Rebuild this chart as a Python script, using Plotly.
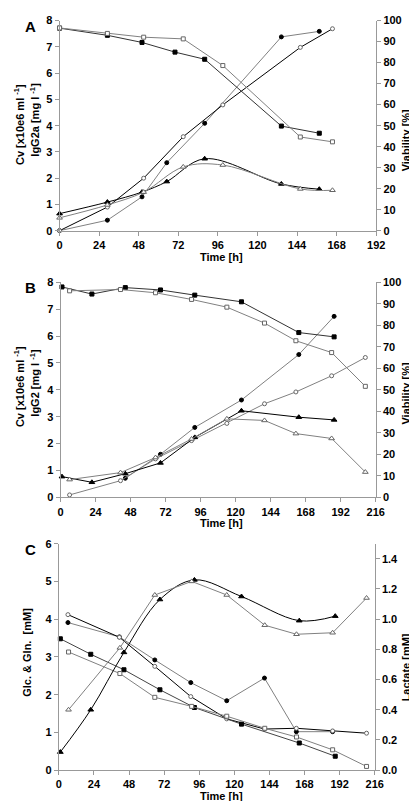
import plotly.graph_objects as go

W, H = 417, 801

# ---------------- Panel A (IgG2a) ----------------
a_t_fsq = [0, 29, 50, 70, 88, 134.5, 157.5]
a_via_fsq = [96.4, 93.0, 89.6, 85.0, 81.6, 49.8, 46.4]
a_t_osq = [0, 29, 51, 75, 99, 146, 165.5]
a_via_osq = [96.5, 93.9, 92.1, 91.3, 78.6, 44.6, 42.3]
a_t_fci = [0, 29, 50, 65, 88, 134.5, 157.5]
a_fci = [0.0, 0.40, 1.29, 2.59, 4.09, 7.38, 7.59]
a_t_oci = [0, 29, 51, 75, 99, 146, 165.5]
a_oci = [0.0, 0.90, 2.0, 3.58, 4.79, 6.98, 7.69]
a_t_ftr = [0, 29, 50, 65, 88, 134.5, 157.5]
a_ftr = [0.65, 1.09, 1.47, 1.87, 2.74, 1.78, 1.58]
a_t_otr = [0, 29, 51, 75, 99, 146, 165.5]
a_otr = [0.49, 0.98, 1.47, 2.43, 2.50, 1.59, 1.54]

# ---------------- Panel B (IgG2) ----------------
b_t_f = [1, 21.5, 44.4, 68.5, 92, 124, 163.3, 187.5]
b_via_fsq = [97.8, 94.5, 97.5, 96.4, 94.0, 90.9, 76.6, 74.6]
b_t_o = [6.2, 41.1, 65.1, 89.8, 114, 139.8, 161.3, 185.8, 208.9]
b_via_osq = [96.0, 96.6, 95.1, 92.0, 88.4, 81.0, 72.8, 67.3, 51.6]
b_t_fci = [44.4, 68.5, 92, 124, 163.3, 187.5]
b_fci = [0.71, 1.60, 2.60, 3.62, 5.31, 6.73]
b_oci = [0.09, 0.62, 1.43, 2.11, 2.75, 3.48, 3.92, 4.52, 5.20]
b_ftr = [0.77, 0.56, 0.88, 1.28, 2.23, 3.22, 2.98, 2.88]
b_otr = [0.66, 0.92, 1.48, 2.17, 2.92, 2.86, 2.37, 2.19, 0.94]

# ---------------- Panel C (metabolites) ----------------
c_t_f = [1, 21.8, 44.5, 69.1, 92.7, 124.9, 164.4, 189]
c_t_o = [6.6, 41.7, 65.6, 90.8, 114.8, 140.8, 162.5, 187.2, 210.4]
c_lac_ftr = [0.12, 0.40, 0.78, 1.13, 1.26, 1.15, 0.99, 1.02]
c_lac_otr = [0.40, 0.81, 1.16, 1.25, 1.16, 0.96, 0.90, 0.91, 1.14]
c_t_fci = [6.2, 41.4, 65.6, 90.2, 114.8, 140.6, 162.4, 187.2]
c_fci = [3.91, 3.53, 2.92, 2.32, 1.84, 2.44, 1.02, 1.02]
c_t_oci = [6.2, 41.4, 65.6, 90.2, 114.8, 140.6, 162.4, 187.2, 210.4]
c_oci = [4.12, 3.52, 2.75, 1.95, 1.36, 1.09, 1.11, 1.04, 0.98]
c_fsq = [3.48, 3.07, 2.66, 2.13, 1.66, 1.22, 0.72, 0.37]
c_osq = [3.13, 2.56, 1.93, 1.69, 1.43, 1.11, 0.88, 0.54, 0.10]

BLACK = "#000000"
GREY = "#808080"
AXC = "#999999"
FONT = "Liberation Sans"

fig = go.Figure()


def add(x, y, sym, filled, linecol, xa, ya, shape="linear"):
    fig.add_trace(go.Scatter(
        x=x, y=y, mode="lines+markers", xaxis=xa, yaxis=ya,
        line=dict(color=linecol, width=1, shape=shape),
        marker=dict(symbol=sym, size=4 if sym != "triangle-up" else 5,
                    color=BLACK if filled else "white",
                    line=dict(color=BLACK if filled else "#666666", width=1)),
        showlegend=False, cliponaxis=False))


# Panel A
add(a_t_fsq, a_via_fsq, "square", True, "#333333", "x", "y2")
add(a_t_osq, a_via_osq, "square", False, GREY, "x", "y2")
add(a_t_fci, a_fci, "circle", True, GREY, "x", "y")
add(a_t_oci, a_oci, "circle", False, BLACK, "x", "y")
add(a_t_ftr, a_ftr, "triangle-up", True, BLACK, "x", "y", "spline")
add(a_t_otr, a_otr, "triangle-up", False, GREY, "x", "y", "spline")

# Panel B
add(b_t_f, b_via_fsq, "square", True, "#333333", "x2", "y4")
add(b_t_o, b_via_osq, "square", False, GREY, "x2", "y4")
add(b_t_fci, b_fci, "circle", True, GREY, "x2", "y3")
add(b_t_o, b_oci, "circle", False, GREY, "x2", "y3")
add(b_t_f, b_ftr, "triangle-up", True, BLACK, "x2", "y3")
add(b_t_o, b_otr, "triangle-up", False, GREY, "x2", "y3")

# Panel C
add(c_t_f, c_lac_ftr, "triangle-up", True, BLACK, "x3", "y6", "spline")
add(c_t_o, c_lac_otr, "triangle-up", False, GREY, "x3", "y6")
add(c_t_fci, c_fci, "circle", True, GREY, "x3", "y5")
add(c_t_oci, c_oci, "circle", False, BLACK, "x3", "y5")
add(c_t_f, c_fsq, "square", True, "#444444", "x3", "y5")
add(c_t_o, c_osq, "square", False, GREY, "x3", "y5")


def px(x):
    return x / W


def py(y):
    return 1 - y / H


tickfont = dict(family=FONT, size=11, color="black", weight="bold")


def xax(x0, x1, ya, rmax):
    return dict(domain=[px(x0), px(x1)], range=[0, rmax], dtick=24, tick0=0,
                anchor=ya, showgrid=False, zeroline=False, showline=True,
                linecolor=AXC, linewidth=1, ticks="outside", ticklen=4,
                tickcolor=AXC, tickfont=tickfont, fixedrange=True)


def yax(y0, y1, rng, dtick, anchor_x, side="left", overlay=None, fmt=None, tickvals=None):
    d = dict(domain=[py(y0), py(y1)], range=rng, showgrid=False, zeroline=False,
             showline=True, linecolor=AXC, linewidth=1, ticks="outside", ticklen=4,
             tickcolor=AXC, tickfont=tickfont, side=side, anchor=anchor_x)
    if dtick is not None:
        d["dtick"] = dtick
        d["tick0"] = 0
    if tickvals is not None:
        d["tickvals"] = tickvals
    if fmt:
        d["tickformat"] = fmt
    if overlay:
        d["overlaying"] = overlay
        d.pop("domain")
    return d


fig.update_layout(
    width=W, height=H, margin=dict(l=0, r=0, t=0, b=0),
    paper_bgcolor="white", plot_bgcolor="white",
    font=dict(family=FONT, color="black"),
    xaxis=xax(50, 376, "y", 192),
    yaxis=yax(220, 6.7, [0, 8], 1, "x"),
    yaxis2=yax(220, 6.7, [0, 100], 10, "x", side="right", overlay="y"),
    xaxis2=xax(51, 375.5, "y3", 216),
    yaxis3=yax(490.7, 272.3, [0, 8], 1, "x2"),
    yaxis4=yax(490.7, 272.3, [0, 100], 10, "x2", side="right", overlay="y3"),
    xaxis3=xax(49.3, 374.5, "y5", 216),
    yaxis5=yax(767.7, 537.7, [0, 6], 1, "x3"),
    yaxis6=yax(767.7, 537.7, [0, 1.5], None, "x3", side="right", overlay="y5",
               fmt=".1f", tickvals=[0, 0.2, 0.4, 0.6, 0.8, 1.0, 1.2, 1.4]),
)

anns = []


def txt(x, y, s, size=11, angle=0):
    anns.append(dict(x=px(x), y=py(y), xref="paper", yref="paper", text=s,
                     showarrow=False, textangle=angle, xanchor="center", yanchor="middle",
                     font=dict(family=FONT, size=size, color="black", weight="bold")))


# panel letters
txt(20, 13, "A", 15)
txt(20.5, 278, "B", 15)
txt(20.5, 544, "C", 15)

# Panel A titles
txt(9, 112, "Cv [x10e6 ml <sup>-1</sup>]", 11, -90)
txt(25, 107, "IgG2a [mg l <sup>-1</sup>]", 11, -90)
txt(407, 128, "Viability [%]", 11, -90)
txt(217, 247, "Time [h]", 11)

# Panel B titles
txt(9, 378, "Cv [x10e6 ml <sup>-1</sup>]", 11, -90)
txt(25, 374, "IgG2 [mg l <sup>-1</sup>]", 11, -90)
txt(407, 385, "Viability [%]", 11, -90)
txt(217, 517, "Time [h]", 11)

# Panel C titles
txt(17, 648, "Glc. & Gln.  [mM]", 11, -90)
txt(407, 663, "Lactate [mM]", 11, -90)
txt(217, 794, "Time [h]", 11)

fig.update_layout(annotations=anns)

fig.write_html("out.html")
